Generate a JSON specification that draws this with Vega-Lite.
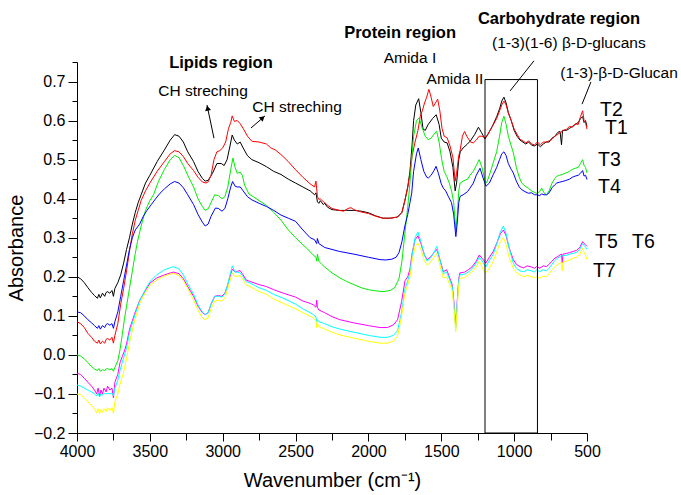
{
"$schema": "https://vega.github.io/schema/vega-lite/v6.json",
"width": 510, "height": 371,
"autosize": "none",
"padding": {"left": 77, "top": 62, "right": 94, "bottom": 62},
"background": "white",
"config": {"font": "Liberation Sans", "view": {"stroke": null},
  "axis": {"grid": false, "domainColor": "black", "tickColor": "black", "labelColor": "black", "titleColor": "black", "domainWidth": 1, "tickWidth": 1, "labelFont": "Liberation Sans", "titleFont": "Liberation Sans", "titleFontWeight": "normal", "labelFlush": false, "labelOverlap": false}},
"datasets": {
"spectra": [
{"s":"T2","w":4000,"a":0.200},{"s":"T2","w":3975,"a":0.195},{"s":"T2","w":3950,"a":0.185},{"s":"T2","w":3925,"a":0.172},{"s":"T2","w":3900,"a":0.160},{"s":"T2","w":3880,"a":0.152},{"s":"T2","w":3860,"a":0.145},{"s":"T2","w":3850,"a":0.155},{"s":"T2","w":3840,"a":0.146},{"s":"T2","w":3825,"a":0.158},{"s":"T2","w":3810,"a":0.150},{"s":"T2","w":3800,"a":0.160},{"s":"T2","w":3790,"a":0.162},{"s":"T2","w":3775,"a":0.158},{"s":"T2","w":3760,"a":0.165},{"s":"T2","w":3750,"a":0.150},{"s":"T2","w":3740,"a":0.170},{"s":"T2","w":3720,"a":0.185},{"s":"T2","w":3700,"a":0.205},{"s":"T2","w":3680,"a":0.235},{"s":"T2","w":3660,"a":0.270},{"s":"T2","w":3640,"a":0.300},{"s":"T2","w":3620,"a":0.335},{"s":"T2","w":3600,"a":0.365},{"s":"T2","w":3580,"a":0.390},{"s":"T2","w":3560,"a":0.410},{"s":"T2","w":3530,"a":0.440},{"s":"T2","w":3500,"a":0.460},{"s":"T2","w":3450,"a":0.495},{"s":"T2","w":3400,"a":0.525},{"s":"T2","w":3360,"a":0.550},{"s":"T2","w":3330,"a":0.564},{"s":"T2","w":3300,"a":0.560},{"s":"T2","w":3270,"a":0.545},{"s":"T2","w":3240,"a":0.520},{"s":"T2","w":3200,"a":0.495},{"s":"T2","w":3170,"a":0.470},{"s":"T2","w":3140,"a":0.452},{"s":"T2","w":3120,"a":0.445},{"s":"T2","w":3100,"a":0.447},{"s":"T2","w":3070,"a":0.465},{"s":"T2","w":3040,"a":0.490},{"s":"T2","w":3010,"a":0.490},{"s":"T2","w":2990,"a":0.485},{"s":"T2","w":2970,"a":0.500},{"s":"T2","w":2950,"a":0.535},{"s":"T2","w":2935,"a":0.563},{"s":"T2","w":2920,"a":0.550},{"s":"T2","w":2900,"a":0.540},{"s":"T2","w":2880,"a":0.545},{"s":"T2","w":2860,"a":0.530},{"s":"T2","w":2830,"a":0.510},{"s":"T2","w":2800,"a":0.500},{"s":"T2","w":2750,"a":0.492},{"s":"T2","w":2700,"a":0.482},{"s":"T2","w":2650,"a":0.470},{"s":"T2","w":2600,"a":0.462},{"s":"T2","w":2550,"a":0.450},{"s":"T2","w":2500,"a":0.440},{"s":"T2","w":2450,"a":0.430},{"s":"T2","w":2400,"a":0.420},{"s":"T2","w":2370,"a":0.410},{"s":"T2","w":2360,"a":0.415},{"s":"T2","w":2350,"a":0.392},{"s":"T2","w":2340,"a":0.388},{"s":"T2","w":2330,"a":0.395},{"s":"T2","w":2310,"a":0.385},{"s":"T2","w":2300,"a":0.388},{"s":"T2","w":2280,"a":0.378},{"s":"T2","w":2250,"a":0.372},{"s":"T2","w":2200,"a":0.370},{"s":"T2","w":2150,"a":0.370},{"s":"T2","w":2100,"a":0.370},{"s":"T2","w":2050,"a":0.368},{"s":"T2","w":2000,"a":0.364},{"s":"T2","w":1950,"a":0.356},{"s":"T2","w":1900,"a":0.350},{"s":"T2","w":1850,"a":0.350},{"s":"T2","w":1800,"a":0.353},{"s":"T2","w":1770,"a":0.365},{"s":"T2","w":1750,"a":0.395},{"s":"T2","w":1730,"a":0.430},{"s":"T2","w":1715,"a":0.470},{"s":"T2","w":1700,"a":0.540},{"s":"T2","w":1690,"a":0.600},{"s":"T2","w":1675,"a":0.640},{"s":"T2","w":1655,"a":0.656},{"s":"T2","w":1640,"a":0.620},{"s":"T2","w":1625,"a":0.578},{"s":"T2","w":1610,"a":0.575},{"s":"T2","w":1590,"a":0.590},{"s":"T2","w":1560,"a":0.605},{"s":"T2","w":1535,"a":0.615},{"s":"T2","w":1515,"a":0.590},{"s":"T2","w":1500,"a":0.555},{"s":"T2","w":1480,"a":0.545},{"s":"T2","w":1460,"a":0.543},{"s":"T2","w":1440,"a":0.520},{"s":"T2","w":1420,"a":0.480},{"s":"T2","w":1405,"a":0.420},{"s":"T2","w":1395,"a":0.440},{"s":"T2","w":1380,"a":0.500},{"s":"T2","w":1370,"a":0.520},{"s":"T2","w":1350,"a":0.530},{"s":"T2","w":1320,"a":0.540},{"s":"T2","w":1300,"a":0.548},{"s":"T2","w":1270,"a":0.565},{"s":"T2","w":1245,"a":0.583},{"s":"T2","w":1225,"a":0.570},{"s":"T2","w":1200,"a":0.553},{"s":"T2","w":1180,"a":0.565},{"s":"T2","w":1150,"a":0.585},{"s":"T2","w":1120,"a":0.610},{"s":"T2","w":1100,"a":0.630},{"s":"T2","w":1085,"a":0.650},{"s":"T2","w":1070,"a":0.660},{"s":"T2","w":1055,"a":0.645},{"s":"T2","w":1040,"a":0.620},{"s":"T2","w":1020,"a":0.600},{"s":"T2","w":1000,"a":0.575},{"s":"T2","w":980,"a":0.560},{"s":"T2","w":960,"a":0.550},{"s":"T2","w":940,"a":0.545},{"s":"T2","w":920,"a":0.540},{"s":"T2","w":900,"a":0.545},{"s":"T2","w":880,"a":0.537},{"s":"T2","w":860,"a":0.535},{"s":"T2","w":840,"a":0.540},{"s":"T2","w":820,"a":0.533},{"s":"T2","w":800,"a":0.540},{"s":"T2","w":780,"a":0.545},{"s":"T2","w":760,"a":0.545},{"s":"T2","w":740,"a":0.555},{"s":"T2","w":720,"a":0.560},{"s":"T2","w":700,"a":0.570},{"s":"T2","w":685,"a":0.572},{"s":"T2","w":675,"a":0.538},{"s":"T2","w":668,"a":0.575},{"s":"T2","w":640,"a":0.575},{"s":"T2","w":620,"a":0.580},{"s":"T2","w":600,"a":0.585},{"s":"T2","w":580,"a":0.590},{"s":"T2","w":560,"a":0.595},{"s":"T2","w":545,"a":0.605},{"s":"T2","w":530,"a":0.610},{"s":"T2","w":520,"a":0.595},{"s":"T2","w":510,"a":0.600},{"s":"T2","w":500,"a":0.585},
{"s":"T1","w":4000,"a":0.085},{"s":"T1","w":3975,"a":0.080},{"s":"T1","w":3950,"a":0.070},{"s":"T1","w":3925,"a":0.055},{"s":"T1","w":3900,"a":0.045},{"s":"T1","w":3880,"a":0.035},{"s":"T1","w":3860,"a":0.030},{"s":"T1","w":3850,"a":0.038},{"s":"T1","w":3840,"a":0.028},{"s":"T1","w":3825,"a":0.035},{"s":"T1","w":3810,"a":0.030},{"s":"T1","w":3800,"a":0.040},{"s":"T1","w":3790,"a":0.042},{"s":"T1","w":3775,"a":0.038},{"s":"T1","w":3760,"a":0.045},{"s":"T1","w":3750,"a":0.030},{"s":"T1","w":3740,"a":0.050},{"s":"T1","w":3720,"a":0.080},{"s":"T1","w":3700,"a":0.130},{"s":"T1","w":3680,"a":0.170},{"s":"T1","w":3660,"a":0.215},{"s":"T1","w":3640,"a":0.265},{"s":"T1","w":3620,"a":0.310},{"s":"T1","w":3600,"a":0.345},{"s":"T1","w":3580,"a":0.370},{"s":"T1","w":3560,"a":0.395},{"s":"T1","w":3530,"a":0.420},{"s":"T1","w":3500,"a":0.440},{"s":"T1","w":3450,"a":0.470},{"s":"T1","w":3400,"a":0.495},{"s":"T1","w":3360,"a":0.515},{"s":"T1","w":3330,"a":0.523},{"s":"T1","w":3300,"a":0.520},{"s":"T1","w":3270,"a":0.508},{"s":"T1","w":3240,"a":0.490},{"s":"T1","w":3200,"a":0.472},{"s":"T1","w":3170,"a":0.455},{"s":"T1","w":3140,"a":0.443},{"s":"T1","w":3115,"a":0.440},{"s":"T1","w":3100,"a":0.443},{"s":"T1","w":3080,"a":0.460},{"s":"T1","w":3060,"a":0.500},{"s":"T1","w":3040,"a":0.520},{"s":"T1","w":3020,"a":0.523},{"s":"T1","w":3000,"a":0.530},{"s":"T1","w":2980,"a":0.545},{"s":"T1","w":2960,"a":0.580},{"s":"T1","w":2945,"a":0.595},{"s":"T1","w":2935,"a":0.612},{"s":"T1","w":2920,"a":0.598},{"s":"T1","w":2900,"a":0.600},{"s":"T1","w":2880,"a":0.592},{"s":"T1","w":2860,"a":0.580},{"s":"T1","w":2830,"a":0.560},{"s":"T1","w":2800,"a":0.547},{"s":"T1","w":2750,"a":0.545},{"s":"T1","w":2700,"a":0.540},{"s":"T1","w":2670,"a":0.530},{"s":"T1","w":2640,"a":0.525},{"s":"T1","w":2600,"a":0.513},{"s":"T1","w":2550,"a":0.495},{"s":"T1","w":2500,"a":0.474},{"s":"T1","w":2450,"a":0.455},{"s":"T1","w":2400,"a":0.438},{"s":"T1","w":2370,"a":0.430},{"s":"T1","w":2360,"a":0.445},{"s":"T1","w":2350,"a":0.405},{"s":"T1","w":2340,"a":0.398},{"s":"T1","w":2330,"a":0.400},{"s":"T1","w":2310,"a":0.392},{"s":"T1","w":2300,"a":0.390},{"s":"T1","w":2280,"a":0.383},{"s":"T1","w":2250,"a":0.375},{"s":"T1","w":2200,"a":0.370},{"s":"T1","w":2170,"a":0.368},{"s":"T1","w":2140,"a":0.375},{"s":"T1","w":2120,"a":0.377},{"s":"T1","w":2100,"a":0.372},{"s":"T1","w":2050,"a":0.366},{"s":"T1","w":2000,"a":0.362},{"s":"T1","w":1950,"a":0.355},{"s":"T1","w":1900,"a":0.350},{"s":"T1","w":1850,"a":0.350},{"s":"T1","w":1800,"a":0.353},{"s":"T1","w":1770,"a":0.365},{"s":"T1","w":1750,"a":0.395},{"s":"T1","w":1730,"a":0.430},{"s":"T1","w":1715,"a":0.465},{"s":"T1","w":1700,"a":0.510},{"s":"T1","w":1680,"a":0.545},{"s":"T1","w":1660,"a":0.575},{"s":"T1","w":1645,"a":0.610},{"s":"T1","w":1630,"a":0.625},{"s":"T1","w":1615,"a":0.645},{"s":"T1","w":1600,"a":0.660},{"s":"T1","w":1585,"a":0.680},{"s":"T1","w":1570,"a":0.660},{"s":"T1","w":1555,"a":0.636},{"s":"T1","w":1540,"a":0.645},{"s":"T1","w":1525,"a":0.655},{"s":"T1","w":1510,"a":0.625},{"s":"T1","w":1495,"a":0.580},{"s":"T1","w":1480,"a":0.560},{"s":"T1","w":1460,"a":0.556},{"s":"T1","w":1440,"a":0.535},{"s":"T1","w":1420,"a":0.505},{"s":"T1","w":1405,"a":0.445},{"s":"T1","w":1395,"a":0.465},{"s":"T1","w":1380,"a":0.510},{"s":"T1","w":1370,"a":0.525},{"s":"T1","w":1355,"a":0.560},{"s":"T1","w":1340,"a":0.572},{"s":"T1","w":1325,"a":0.560},{"s":"T1","w":1300,"a":0.545},{"s":"T1","w":1280,"a":0.543},{"s":"T1","w":1260,"a":0.550},{"s":"T1","w":1240,"a":0.560},{"s":"T1","w":1220,"a":0.560},{"s":"T1","w":1200,"a":0.555},{"s":"T1","w":1180,"a":0.565},{"s":"T1","w":1150,"a":0.585},{"s":"T1","w":1120,"a":0.605},{"s":"T1","w":1100,"a":0.625},{"s":"T1","w":1085,"a":0.640},{"s":"T1","w":1070,"a":0.650},{"s":"T1","w":1055,"a":0.640},{"s":"T1","w":1040,"a":0.620},{"s":"T1","w":1020,"a":0.600},{"s":"T1","w":1000,"a":0.578},{"s":"T1","w":980,"a":0.565},{"s":"T1","w":960,"a":0.552},{"s":"T1","w":940,"a":0.548},{"s":"T1","w":920,"a":0.543},{"s":"T1","w":900,"a":0.548},{"s":"T1","w":880,"a":0.540},{"s":"T1","w":860,"a":0.538},{"s":"T1","w":840,"a":0.545},{"s":"T1","w":820,"a":0.538},{"s":"T1","w":800,"a":0.545},{"s":"T1","w":780,"a":0.545},{"s":"T1","w":760,"a":0.548},{"s":"T1","w":740,"a":0.552},{"s":"T1","w":720,"a":0.560},{"s":"T1","w":700,"a":0.565},{"s":"T1","w":680,"a":0.570},{"s":"T1","w":660,"a":0.575},{"s":"T1","w":640,"a":0.578},{"s":"T1","w":620,"a":0.585},{"s":"T1","w":600,"a":0.583},{"s":"T1","w":580,"a":0.592},{"s":"T1","w":560,"a":0.590},{"s":"T1","w":545,"a":0.610},{"s":"T1","w":530,"a":0.625},{"s":"T1","w":520,"a":0.600},{"s":"T1","w":510,"a":0.595},{"s":"T1","w":500,"a":0.578},
{"s":"T3","w":4000,"a":0.000},{"s":"T3","w":3975,"a":-0.003},{"s":"T3","w":3950,"a":-0.010},{"s":"T3","w":3925,"a":-0.020},{"s":"T3","w":3900,"a":-0.030},{"s":"T3","w":3880,"a":-0.036},{"s":"T3","w":3860,"a":-0.040},{"s":"T3","w":3850,"a":-0.035},{"s":"T3","w":3840,"a":-0.042},{"s":"T3","w":3825,"a":-0.038},{"s":"T3","w":3810,"a":-0.040},{"s":"T3","w":3800,"a":-0.036},{"s":"T3","w":3790,"a":-0.035},{"s":"T3","w":3775,"a":-0.038},{"s":"T3","w":3760,"a":-0.035},{"s":"T3","w":3750,"a":-0.042},{"s":"T3","w":3740,"a":-0.032},{"s":"T3","w":3720,"a":-0.015},{"s":"T3","w":3705,"a":0.013},{"s":"T3","w":3690,"a":0.050},{"s":"T3","w":3675,"a":0.090},{"s":"T3","w":3660,"a":0.125},{"s":"T3","w":3640,"a":0.170},{"s":"T3","w":3620,"a":0.215},{"s":"T3","w":3600,"a":0.260},{"s":"T3","w":3585,"a":0.290},{"s":"T3","w":3560,"a":0.330},{"s":"T3","w":3530,"a":0.370},{"s":"T3","w":3500,"a":0.395},{"s":"T3","w":3475,"a":0.410},{"s":"T3","w":3440,"a":0.445},{"s":"T3","w":3400,"a":0.475},{"s":"T3","w":3360,"a":0.500},{"s":"T3","w":3330,"a":0.511},{"s":"T3","w":3300,"a":0.505},{"s":"T3","w":3270,"a":0.485},{"s":"T3","w":3240,"a":0.460},{"s":"T3","w":3200,"a":0.430},{"s":"T3","w":3170,"a":0.400},{"s":"T3","w":3140,"a":0.380},{"s":"T3","w":3120,"a":0.370},{"s":"T3","w":3100,"a":0.374},{"s":"T3","w":3080,"a":0.390},{"s":"T3","w":3055,"a":0.410},{"s":"T3","w":3030,"a":0.408},{"s":"T3","w":3005,"a":0.400},{"s":"T3","w":2985,"a":0.405},{"s":"T3","w":2965,"a":0.430},{"s":"T3","w":2945,"a":0.475},{"s":"T3","w":2930,"a":0.504},{"s":"T3","w":2915,"a":0.480},{"s":"T3","w":2900,"a":0.465},{"s":"T3","w":2880,"a":0.468},{"s":"T3","w":2865,"a":0.460},{"s":"T3","w":2850,"a":0.435},{"s":"T3","w":2820,"a":0.412},{"s":"T3","w":2790,"a":0.405},{"s":"T3","w":2750,"a":0.395},{"s":"T3","w":2700,"a":0.383},{"s":"T3","w":2650,"a":0.365},{"s":"T3","w":2600,"a":0.345},{"s":"T3","w":2550,"a":0.320},{"s":"T3","w":2500,"a":0.300},{"s":"T3","w":2450,"a":0.282},{"s":"T3","w":2420,"a":0.272},{"s":"T3","w":2380,"a":0.256},{"s":"T3","w":2360,"a":0.250},{"s":"T3","w":2355,"a":0.240},{"s":"T3","w":2350,"a":0.258},{"s":"T3","w":2340,"a":0.240},{"s":"T3","w":2320,"a":0.232},{"s":"T3","w":2300,"a":0.225},{"s":"T3","w":2250,"a":0.210},{"s":"T3","w":2200,"a":0.198},{"s":"T3","w":2150,"a":0.188},{"s":"T3","w":2100,"a":0.180},{"s":"T3","w":2050,"a":0.172},{"s":"T3","w":2000,"a":0.167},{"s":"T3","w":1950,"a":0.164},{"s":"T3","w":1900,"a":0.162},{"s":"T3","w":1850,"a":0.165},{"s":"T3","w":1820,"a":0.172},{"s":"T3","w":1790,"a":0.195},{"s":"T3","w":1770,"a":0.240},{"s":"T3","w":1750,"a":0.310},{"s":"T3","w":1730,"a":0.380},{"s":"T3","w":1715,"a":0.440},{"s":"T3","w":1703,"a":0.500},{"s":"T3","w":1690,"a":0.560},{"s":"T3","w":1670,"a":0.600},{"s":"T3","w":1652,"a":0.607},{"s":"T3","w":1635,"a":0.585},{"s":"T3","w":1610,"a":0.560},{"s":"T3","w":1590,"a":0.551},{"s":"T3","w":1570,"a":0.555},{"s":"T3","w":1550,"a":0.565},{"s":"T3","w":1532,"a":0.573},{"s":"T3","w":1515,"a":0.545},{"s":"T3","w":1497,"a":0.500},{"s":"T3","w":1480,"a":0.470},{"s":"T3","w":1463,"a":0.457},{"s":"T3","w":1445,"a":0.440},{"s":"T3","w":1429,"a":0.419},{"s":"T3","w":1415,"a":0.390},{"s":"T3","w":1400,"a":0.320},{"s":"T3","w":1390,"a":0.360},{"s":"T3","w":1380,"a":0.420},{"s":"T3","w":1371,"a":0.440},{"s":"T3","w":1350,"a":0.445},{"s":"T3","w":1320,"a":0.450},{"s":"T3","w":1303,"a":0.460},{"s":"T3","w":1280,"a":0.470},{"s":"T3","w":1260,"a":0.485},{"s":"T3","w":1240,"a":0.500},{"s":"T3","w":1220,"a":0.480},{"s":"T3","w":1200,"a":0.445},{"s":"T3","w":1190,"a":0.440},{"s":"T3","w":1170,"a":0.460},{"s":"T3","w":1145,"a":0.490},{"s":"T3","w":1120,"a":0.520},{"s":"T3","w":1100,"a":0.560},{"s":"T3","w":1085,"a":0.595},{"s":"T3","w":1070,"a":0.611},{"s":"T3","w":1055,"a":0.590},{"s":"T3","w":1040,"a":0.560},{"s":"T3","w":1020,"a":0.535},{"s":"T3","w":1005,"a":0.517},{"s":"T3","w":985,"a":0.480},{"s":"T3","w":965,"a":0.455},{"s":"T3","w":948,"a":0.440},{"s":"T3","w":925,"a":0.432},{"s":"T3","w":903,"a":0.427},{"s":"T3","w":880,"a":0.420},{"s":"T3","w":860,"a":0.416},{"s":"T3","w":845,"a":0.414},{"s":"T3","w":825,"a":0.418},{"s":"T3","w":811,"a":0.427},{"s":"T3","w":795,"a":0.415},{"s":"T3","w":777,"a":0.410},{"s":"T3","w":760,"a":0.420},{"s":"T3","w":740,"a":0.440},{"s":"T3","w":720,"a":0.452},{"s":"T3","w":708,"a":0.457},{"s":"T3","w":690,"a":0.460},{"s":"T3","w":670,"a":0.462},{"s":"T3","w":650,"a":0.465},{"s":"T3","w":620,"a":0.470},{"s":"T3","w":600,"a":0.475},{"s":"T3","w":580,"a":0.478},{"s":"T3","w":560,"a":0.480},{"s":"T3","w":545,"a":0.490},{"s":"T3","w":530,"a":0.500},{"s":"T3","w":520,"a":0.485},{"s":"T3","w":510,"a":0.480},{"s":"T3","w":500,"a":0.466},
{"s":"T4","w":4000,"a":0.110},{"s":"T4","w":3975,"a":0.108},{"s":"T4","w":3950,"a":0.100},{"s":"T4","w":3925,"a":0.090},{"s":"T4","w":3900,"a":0.082},{"s":"T4","w":3880,"a":0.075},{"s":"T4","w":3860,"a":0.068},{"s":"T4","w":3850,"a":0.075},{"s":"T4","w":3840,"a":0.066},{"s":"T4","w":3825,"a":0.075},{"s":"T4","w":3810,"a":0.070},{"s":"T4","w":3800,"a":0.078},{"s":"T4","w":3790,"a":0.080},{"s":"T4","w":3775,"a":0.076},{"s":"T4","w":3760,"a":0.080},{"s":"T4","w":3750,"a":0.068},{"s":"T4","w":3740,"a":0.085},{"s":"T4","w":3720,"a":0.110},{"s":"T4","w":3700,"a":0.150},{"s":"T4","w":3680,"a":0.190},{"s":"T4","w":3660,"a":0.230},{"s":"T4","w":3640,"a":0.270},{"s":"T4","w":3620,"a":0.300},{"s":"T4","w":3600,"a":0.320},{"s":"T4","w":3570,"a":0.335},{"s":"T4","w":3545,"a":0.355},{"s":"T4","w":3520,"a":0.370},{"s":"T4","w":3490,"a":0.385},{"s":"T4","w":3460,"a":0.400},{"s":"T4","w":3430,"a":0.414},{"s":"T4","w":3400,"a":0.425},{"s":"T4","w":3360,"a":0.438},{"s":"T4","w":3330,"a":0.444},{"s":"T4","w":3300,"a":0.440},{"s":"T4","w":3270,"a":0.428},{"s":"T4","w":3240,"a":0.410},{"s":"T4","w":3200,"a":0.385},{"s":"T4","w":3170,"a":0.360},{"s":"T4","w":3140,"a":0.340},{"s":"T4","w":3120,"a":0.330},{"s":"T4","w":3100,"a":0.335},{"s":"T4","w":3080,"a":0.355},{"s":"T4","w":3050,"a":0.376},{"s":"T4","w":3030,"a":0.375},{"s":"T4","w":3005,"a":0.368},{"s":"T4","w":2985,"a":0.375},{"s":"T4","w":2965,"a":0.400},{"s":"T4","w":2945,"a":0.430},{"s":"T4","w":2932,"a":0.444},{"s":"T4","w":2915,"a":0.432},{"s":"T4","w":2900,"a":0.430},{"s":"T4","w":2880,"a":0.430},{"s":"T4","w":2860,"a":0.420},{"s":"T4","w":2830,"a":0.405},{"s":"T4","w":2800,"a":0.397},{"s":"T4","w":2750,"a":0.388},{"s":"T4","w":2700,"a":0.380},{"s":"T4","w":2650,"a":0.370},{"s":"T4","w":2600,"a":0.358},{"s":"T4","w":2550,"a":0.350},{"s":"T4","w":2500,"a":0.342},{"s":"T4","w":2450,"a":0.320},{"s":"T4","w":2400,"a":0.300},{"s":"T4","w":2370,"a":0.295},{"s":"T4","w":2355,"a":0.285},{"s":"T4","w":2350,"a":0.298},{"s":"T4","w":2340,"a":0.285},{"s":"T4","w":2300,"a":0.275},{"s":"T4","w":2250,"a":0.270},{"s":"T4","w":2200,"a":0.265},{"s":"T4","w":2100,"a":0.258},{"s":"T4","w":2000,"a":0.250},{"s":"T4","w":1920,"a":0.244},{"s":"T4","w":1880,"a":0.243},{"s":"T4","w":1840,"a":0.245},{"s":"T4","w":1810,"a":0.250},{"s":"T4","w":1790,"a":0.262},{"s":"T4","w":1770,"a":0.290},{"s":"T4","w":1750,"a":0.330},{"s":"T4","w":1730,"a":0.360},{"s":"T4","w":1715,"a":0.390},{"s":"T4","w":1703,"a":0.414},{"s":"T4","w":1690,"a":0.470},{"s":"T4","w":1670,"a":0.515},{"s":"T4","w":1658,"a":0.530},{"s":"T4","w":1640,"a":0.500},{"s":"T4","w":1620,"a":0.470},{"s":"T4","w":1600,"a":0.455},{"s":"T4","w":1589,"a":0.453},{"s":"T4","w":1570,"a":0.460},{"s":"T4","w":1550,"a":0.472},{"s":"T4","w":1536,"a":0.483},{"s":"T4","w":1520,"a":0.465},{"s":"T4","w":1500,"a":0.438},{"s":"T4","w":1486,"a":0.427},{"s":"T4","w":1470,"a":0.420},{"s":"T4","w":1452,"a":0.406},{"s":"T4","w":1430,"a":0.390},{"s":"T4","w":1415,"a":0.360},{"s":"T4","w":1400,"a":0.303},{"s":"T4","w":1390,"a":0.340},{"s":"T4","w":1380,"a":0.390},{"s":"T4","w":1371,"a":0.406},{"s":"T4","w":1350,"a":0.410},{"s":"T4","w":1320,"a":0.418},{"s":"T4","w":1303,"a":0.427},{"s":"T4","w":1280,"a":0.440},{"s":"T4","w":1260,"a":0.460},{"s":"T4","w":1234,"a":0.478},{"s":"T4","w":1215,"a":0.455},{"s":"T4","w":1193,"a":0.432},{"s":"T4","w":1170,"a":0.440},{"s":"T4","w":1143,"a":0.462},{"s":"T4","w":1120,"a":0.480},{"s":"T4","w":1100,"a":0.500},{"s":"T4","w":1085,"a":0.515},{"s":"T4","w":1070,"a":0.520},{"s":"T4","w":1055,"a":0.510},{"s":"T4","w":1040,"a":0.490},{"s":"T4","w":1020,"a":0.475},{"s":"T4","w":1006,"a":0.466},{"s":"T4","w":985,"a":0.445},{"s":"T4","w":965,"a":0.430},{"s":"T4","w":948,"a":0.423},{"s":"T4","w":925,"a":0.418},{"s":"T4","w":903,"a":0.414},{"s":"T4","w":880,"a":0.415},{"s":"T4","w":860,"a":0.410},{"s":"T4","w":845,"a":0.410},{"s":"T4","w":825,"a":0.408},{"s":"T4","w":811,"a":0.412},{"s":"T4","w":795,"a":0.410},{"s":"T4","w":777,"a":0.410},{"s":"T4","w":760,"a":0.415},{"s":"T4","w":740,"a":0.428},{"s":"T4","w":720,"a":0.436},{"s":"T4","w":708,"a":0.440},{"s":"T4","w":690,"a":0.442},{"s":"T4","w":670,"a":0.444},{"s":"T4","w":650,"a":0.446},{"s":"T4","w":620,"a":0.450},{"s":"T4","w":600,"a":0.455},{"s":"T4","w":580,"a":0.458},{"s":"T4","w":560,"a":0.460},{"s":"T4","w":545,"a":0.465},{"s":"T4","w":530,"a":0.472},{"s":"T4","w":520,"a":0.458},{"s":"T4","w":510,"a":0.460},{"s":"T4","w":500,"a":0.449},
{"s":"T5","w":4000,"a":-0.047},{"s":"T5","w":3975,"a":-0.050},{"s":"T5","w":3950,"a":-0.060},{"s":"T5","w":3925,"a":-0.070},{"s":"T5","w":3900,"a":-0.080},{"s":"T5","w":3880,"a":-0.090},{"s":"T5","w":3865,"a":-0.100},{"s":"T5","w":3855,"a":-0.085},{"s":"T5","w":3845,"a":-0.105},{"s":"T5","w":3835,"a":-0.090},{"s":"T5","w":3825,"a":-0.100},{"s":"T5","w":3815,"a":-0.085},{"s":"T5","w":3800,"a":-0.095},{"s":"T5","w":3790,"a":-0.080},{"s":"T5","w":3775,"a":-0.090},{"s":"T5","w":3760,"a":-0.085},{"s":"T5","w":3750,"a":-0.110},{"s":"T5","w":3740,"a":-0.070},{"s":"T5","w":3720,"a":-0.050},{"s":"T5","w":3705,"a":-0.020},{"s":"T5","w":3690,"a":-0.005},{"s":"T5","w":3670,"a":0.015},{"s":"T5","w":3659,"a":0.030},{"s":"T5","w":3640,"a":0.065},{"s":"T5","w":3625,"a":0.082},{"s":"T5","w":3600,"a":0.110},{"s":"T5","w":3568,"a":0.141},{"s":"T5","w":3530,"a":0.165},{"s":"T5","w":3499,"a":0.184},{"s":"T5","w":3453,"a":0.197},{"s":"T5","w":3400,"a":0.205},{"s":"T5","w":3339,"a":0.212},{"s":"T5","w":3300,"a":0.208},{"s":"T5","w":3270,"a":0.195},{"s":"T5","w":3240,"a":0.175},{"s":"T5","w":3200,"a":0.150},{"s":"T5","w":3170,"a":0.125},{"s":"T5","w":3140,"a":0.108},{"s":"T5","w":3121,"a":0.103},{"s":"T5","w":3100,"a":0.108},{"s":"T5","w":3080,"a":0.130},{"s":"T5","w":3055,"a":0.150},{"s":"T5","w":3030,"a":0.152},{"s":"T5","w":3007,"a":0.150},{"s":"T5","w":2985,"a":0.158},{"s":"T5","w":2965,"a":0.180},{"s":"T5","w":2950,"a":0.200},{"s":"T5","w":2934,"a":0.220},{"s":"T5","w":2915,"a":0.212},{"s":"T5","w":2900,"a":0.214},{"s":"T5","w":2881,"a":0.216},{"s":"T5","w":2860,"a":0.205},{"s":"T5","w":2840,"a":0.192},{"s":"T5","w":2813,"a":0.188},{"s":"T5","w":2750,"a":0.180},{"s":"T5","w":2700,"a":0.175},{"s":"T5","w":2650,"a":0.167},{"s":"T5","w":2584,"a":0.158},{"s":"T5","w":2500,"a":0.148},{"s":"T5","w":2450,"a":0.138},{"s":"T5","w":2400,"a":0.132},{"s":"T5","w":2378,"a":0.128},{"s":"T5","w":2360,"a":0.122},{"s":"T5","w":2355,"a":0.140},{"s":"T5","w":2350,"a":0.122},{"s":"T5","w":2340,"a":0.115},{"s":"T5","w":2300,"a":0.108},{"s":"T5","w":2250,"a":0.098},{"s":"T5","w":2195,"a":0.090},{"s":"T5","w":2100,"a":0.082},{"s":"T5","w":2000,"a":0.075},{"s":"T5","w":1920,"a":0.070},{"s":"T5","w":1870,"a":0.070},{"s":"T5","w":1829,"a":0.077},{"s":"T5","w":1800,"a":0.090},{"s":"T5","w":1772,"a":0.137},{"s":"T5","w":1749,"a":0.190},{"s":"T5","w":1730,"a":0.200},{"s":"T5","w":1715,"a":0.220},{"s":"T5","w":1700,"a":0.260},{"s":"T5","w":1680,"a":0.295},{"s":"T5","w":1660,"a":0.305},{"s":"T5","w":1640,"a":0.285},{"s":"T5","w":1615,"a":0.255},{"s":"T5","w":1596,"a":0.244},{"s":"T5","w":1575,"a":0.250},{"s":"T5","w":1550,"a":0.262},{"s":"T5","w":1531,"a":0.270},{"s":"T5","w":1510,"a":0.245},{"s":"T5","w":1486,"a":0.213},{"s":"T5","w":1463,"a":0.218},{"s":"T5","w":1445,"a":0.200},{"s":"T5","w":1425,"a":0.180},{"s":"T5","w":1412,"a":0.130},{"s":"T5","w":1401,"a":0.073},{"s":"T5","w":1390,"a":0.140},{"s":"T5","w":1380,"a":0.195},{"s":"T5","w":1372,"a":0.210},{"s":"T5","w":1340,"a":0.212},{"s":"T5","w":1315,"a":0.218},{"s":"T5","w":1290,"a":0.225},{"s":"T5","w":1260,"a":0.240},{"s":"T5","w":1239,"a":0.256},{"s":"T5","w":1215,"a":0.245},{"s":"T5","w":1195,"a":0.235},{"s":"T5","w":1170,"a":0.250},{"s":"T5","w":1143,"a":0.265},{"s":"T5","w":1115,"a":0.290},{"s":"T5","w":1095,"a":0.310},{"s":"T5","w":1074,"a":0.320},{"s":"T5","w":1055,"a":0.305},{"s":"T5","w":1035,"a":0.275},{"s":"T5","w":1006,"a":0.244},{"s":"T5","w":985,"a":0.232},{"s":"T5","w":960,"a":0.226},{"s":"T5","w":935,"a":0.223},{"s":"T5","w":910,"a":0.228},{"s":"T5","w":880,"a":0.225},{"s":"T5","w":860,"a":0.222},{"s":"T5","w":845,"a":0.226},{"s":"T5","w":825,"a":0.222},{"s":"T5","w":800,"a":0.228},{"s":"T5","w":777,"a":0.226},{"s":"T5","w":760,"a":0.232},{"s":"T5","w":740,"a":0.240},{"s":"T5","w":720,"a":0.248},{"s":"T5","w":700,"a":0.252},{"s":"T5","w":685,"a":0.256},{"s":"T5","w":675,"a":0.258},{"s":"T5","w":670,"a":0.235},{"s":"T5","w":665,"a":0.258},{"s":"T5","w":640,"a":0.260},{"s":"T5","w":620,"a":0.262},{"s":"T5","w":594,"a":0.265},{"s":"T5","w":570,"a":0.268},{"s":"T5","w":550,"a":0.275},{"s":"T5","w":530,"a":0.290},{"s":"T5","w":520,"a":0.285},{"s":"T5","w":510,"a":0.282},{"s":"T5","w":500,"a":0.278},
{"s":"T6","w":4000,"a":-0.077},{"s":"T6","w":3975,"a":-0.080},{"s":"T6","w":3950,"a":-0.085},{"s":"T6","w":3925,"a":-0.090},{"s":"T6","w":3900,"a":-0.095},{"s":"T6","w":3880,"a":-0.100},{"s":"T6","w":3865,"a":-0.105},{"s":"T6","w":3855,"a":-0.098},{"s":"T6","w":3845,"a":-0.108},{"s":"T6","w":3835,"a":-0.100},{"s":"T6","w":3825,"a":-0.103},{"s":"T6","w":3815,"a":-0.098},{"s":"T6","w":3800,"a":-0.100},{"s":"T6","w":3790,"a":-0.098},{"s":"T6","w":3775,"a":-0.100},{"s":"T6","w":3760,"a":-0.098},{"s":"T6","w":3750,"a":-0.105},{"s":"T6","w":3740,"a":-0.085},{"s":"T6","w":3720,"a":-0.065},{"s":"T6","w":3705,"a":-0.040},{"s":"T6","w":3690,"a":-0.020},{"s":"T6","w":3670,"a":0.005},{"s":"T6","w":3659,"a":0.020},{"s":"T6","w":3640,"a":0.055},{"s":"T6","w":3625,"a":0.075},{"s":"T6","w":3600,"a":0.105},{"s":"T6","w":3568,"a":0.140},{"s":"T6","w":3530,"a":0.168},{"s":"T6","w":3499,"a":0.188},{"s":"T6","w":3453,"a":0.205},{"s":"T6","w":3400,"a":0.218},{"s":"T6","w":3339,"a":0.226},{"s":"T6","w":3300,"a":0.220},{"s":"T6","w":3270,"a":0.205},{"s":"T6","w":3240,"a":0.182},{"s":"T6","w":3200,"a":0.155},{"s":"T6","w":3170,"a":0.128},{"s":"T6","w":3140,"a":0.110},{"s":"T6","w":3121,"a":0.103},{"s":"T6","w":3100,"a":0.108},{"s":"T6","w":3080,"a":0.130},{"s":"T6","w":3055,"a":0.150},{"s":"T6","w":3030,"a":0.150},{"s":"T6","w":3007,"a":0.148},{"s":"T6","w":2985,"a":0.156},{"s":"T6","w":2965,"a":0.180},{"s":"T6","w":2950,"a":0.205},{"s":"T6","w":2934,"a":0.228},{"s":"T6","w":2915,"a":0.212},{"s":"T6","w":2900,"a":0.212},{"s":"T6","w":2881,"a":0.210},{"s":"T6","w":2860,"a":0.200},{"s":"T6","w":2840,"a":0.188},{"s":"T6","w":2813,"a":0.184},{"s":"T6","w":2750,"a":0.172},{"s":"T6","w":2700,"a":0.165},{"s":"T6","w":2650,"a":0.155},{"s":"T6","w":2584,"a":0.145},{"s":"T6","w":2500,"a":0.130},{"s":"T6","w":2450,"a":0.118},{"s":"T6","w":2400,"a":0.108},{"s":"T6","w":2378,"a":0.103},{"s":"T6","w":2360,"a":0.097},{"s":"T6","w":2355,"a":0.085},{"s":"T6","w":2350,"a":0.090},{"s":"T6","w":2340,"a":0.085},{"s":"T6","w":2300,"a":0.080},{"s":"T6","w":2250,"a":0.072},{"s":"T6","w":2195,"a":0.066},{"s":"T6","w":2100,"a":0.058},{"s":"T6","w":2000,"a":0.050},{"s":"T6","w":1920,"a":0.045},{"s":"T6","w":1870,"a":0.045},{"s":"T6","w":1829,"a":0.050},{"s":"T6","w":1800,"a":0.062},{"s":"T6","w":1772,"a":0.110},{"s":"T6","w":1749,"a":0.170},{"s":"T6","w":1730,"a":0.190},{"s":"T6","w":1715,"a":0.210},{"s":"T6","w":1700,"a":0.255},{"s":"T6","w":1680,"a":0.300},{"s":"T6","w":1660,"a":0.315},{"s":"T6","w":1640,"a":0.290},{"s":"T6","w":1615,"a":0.255},{"s":"T6","w":1596,"a":0.240},{"s":"T6","w":1575,"a":0.248},{"s":"T6","w":1550,"a":0.262},{"s":"T6","w":1531,"a":0.278},{"s":"T6","w":1510,"a":0.245},{"s":"T6","w":1486,"a":0.208},{"s":"T6","w":1463,"a":0.212},{"s":"T6","w":1445,"a":0.195},{"s":"T6","w":1425,"a":0.175},{"s":"T6","w":1412,"a":0.125},{"s":"T6","w":1401,"a":0.068},{"s":"T6","w":1390,"a":0.135},{"s":"T6","w":1380,"a":0.190},{"s":"T6","w":1372,"a":0.205},{"s":"T6","w":1340,"a":0.207},{"s":"T6","w":1315,"a":0.212},{"s":"T6","w":1290,"a":0.220},{"s":"T6","w":1260,"a":0.235},{"s":"T6","w":1239,"a":0.250},{"s":"T6","w":1215,"a":0.238},{"s":"T6","w":1195,"a":0.225},{"s":"T6","w":1170,"a":0.242},{"s":"T6","w":1143,"a":0.258},{"s":"T6","w":1115,"a":0.290},{"s":"T6","w":1095,"a":0.315},{"s":"T6","w":1074,"a":0.330},{"s":"T6","w":1055,"a":0.310},{"s":"T6","w":1035,"a":0.275},{"s":"T6","w":1006,"a":0.235},{"s":"T6","w":985,"a":0.222},{"s":"T6","w":960,"a":0.215},{"s":"T6","w":935,"a":0.213},{"s":"T6","w":910,"a":0.218},{"s":"T6","w":880,"a":0.215},{"s":"T6","w":860,"a":0.212},{"s":"T6","w":845,"a":0.218},{"s":"T6","w":825,"a":0.213},{"s":"T6","w":800,"a":0.218},{"s":"T6","w":777,"a":0.215},{"s":"T6","w":760,"a":0.222},{"s":"T6","w":740,"a":0.232},{"s":"T6","w":720,"a":0.242},{"s":"T6","w":700,"a":0.248},{"s":"T6","w":685,"a":0.252},{"s":"T6","w":670,"a":0.254},{"s":"T6","w":640,"a":0.255},{"s":"T6","w":620,"a":0.258},{"s":"T6","w":594,"a":0.260},{"s":"T6","w":570,"a":0.263},{"s":"T6","w":550,"a":0.270},{"s":"T6","w":530,"a":0.285},{"s":"T6","w":520,"a":0.280},{"s":"T6","w":510,"a":0.276},{"s":"T6","w":500,"a":0.270},
{"s":"T7","w":4000,"a":-0.100},{"s":"T7","w":3975,"a":-0.102},{"s":"T7","w":3950,"a":-0.110},{"s":"T7","w":3925,"a":-0.120},{"s":"T7","w":3900,"a":-0.130},{"s":"T7","w":3880,"a":-0.138},{"s":"T7","w":3865,"a":-0.148},{"s":"T7","w":3855,"a":-0.138},{"s":"T7","w":3845,"a":-0.150},{"s":"T7","w":3835,"a":-0.140},{"s":"T7","w":3825,"a":-0.147},{"s":"T7","w":3815,"a":-0.138},{"s":"T7","w":3800,"a":-0.145},{"s":"T7","w":3790,"a":-0.135},{"s":"T7","w":3775,"a":-0.142},{"s":"T7","w":3760,"a":-0.135},{"s":"T7","w":3750,"a":-0.150},{"s":"T7","w":3740,"a":-0.120},{"s":"T7","w":3720,"a":-0.100},{"s":"T7","w":3705,"a":-0.075},{"s":"T7","w":3682,"a":-0.047},{"s":"T7","w":3660,"a":-0.010},{"s":"T7","w":3636,"a":0.038},{"s":"T7","w":3610,"a":0.080},{"s":"T7","w":3568,"a":0.133},{"s":"T7","w":3530,"a":0.160},{"s":"T7","w":3499,"a":0.178},{"s":"T7","w":3453,"a":0.192},{"s":"T7","w":3400,"a":0.202},{"s":"T7","w":3339,"a":0.209},{"s":"T7","w":3300,"a":0.203},{"s":"T7","w":3270,"a":0.190},{"s":"T7","w":3240,"a":0.170},{"s":"T7","w":3200,"a":0.140},{"s":"T7","w":3170,"a":0.115},{"s":"T7","w":3140,"a":0.095},{"s":"T7","w":3121,"a":0.090},{"s":"T7","w":3100,"a":0.095},{"s":"T7","w":3080,"a":0.118},{"s":"T7","w":3055,"a":0.138},{"s":"T7","w":3030,"a":0.140},{"s":"T7","w":3007,"a":0.138},{"s":"T7","w":2985,"a":0.145},{"s":"T7","w":2965,"a":0.170},{"s":"T7","w":2950,"a":0.190},{"s":"T7","w":2934,"a":0.210},{"s":"T7","w":2915,"a":0.200},{"s":"T7","w":2900,"a":0.202},{"s":"T7","w":2881,"a":0.203},{"s":"T7","w":2860,"a":0.192},{"s":"T7","w":2840,"a":0.180},{"s":"T7","w":2813,"a":0.175},{"s":"T7","w":2750,"a":0.162},{"s":"T7","w":2700,"a":0.155},{"s":"T7","w":2650,"a":0.143},{"s":"T7","w":2584,"a":0.132},{"s":"T7","w":2500,"a":0.118},{"s":"T7","w":2450,"a":0.108},{"s":"T7","w":2400,"a":0.099},{"s":"T7","w":2378,"a":0.094},{"s":"T7","w":2360,"a":0.088},{"s":"T7","w":2355,"a":0.070},{"s":"T7","w":2350,"a":0.080},{"s":"T7","w":2340,"a":0.072},{"s":"T7","w":2300,"a":0.066},{"s":"T7","w":2250,"a":0.058},{"s":"T7","w":2195,"a":0.051},{"s":"T7","w":2100,"a":0.043},{"s":"T7","w":2000,"a":0.035},{"s":"T7","w":1920,"a":0.030},{"s":"T7","w":1870,"a":0.030},{"s":"T7","w":1829,"a":0.035},{"s":"T7","w":1800,"a":0.048},{"s":"T7","w":1772,"a":0.100},{"s":"T7","w":1749,"a":0.160},{"s":"T7","w":1730,"a":0.180},{"s":"T7","w":1715,"a":0.200},{"s":"T7","w":1700,"a":0.240},{"s":"T7","w":1680,"a":0.278},{"s":"T7","w":1660,"a":0.287},{"s":"T7","w":1640,"a":0.270},{"s":"T7","w":1615,"a":0.240},{"s":"T7","w":1596,"a":0.230},{"s":"T7","w":1575,"a":0.237},{"s":"T7","w":1550,"a":0.250},{"s":"T7","w":1531,"a":0.260},{"s":"T7","w":1510,"a":0.230},{"s":"T7","w":1486,"a":0.197},{"s":"T7","w":1463,"a":0.200},{"s":"T7","w":1445,"a":0.182},{"s":"T7","w":1425,"a":0.165},{"s":"T7","w":1412,"a":0.115},{"s":"T7","w":1401,"a":0.060},{"s":"T7","w":1390,"a":0.125},{"s":"T7","w":1380,"a":0.180},{"s":"T7","w":1372,"a":0.196},{"s":"T7","w":1340,"a":0.198},{"s":"T7","w":1315,"a":0.205},{"s":"T7","w":1290,"a":0.212},{"s":"T7","w":1260,"a":0.225},{"s":"T7","w":1239,"a":0.240},{"s":"T7","w":1215,"a":0.220},{"s":"T7","w":1195,"a":0.210},{"s":"T7","w":1170,"a":0.222},{"s":"T7","w":1143,"a":0.240},{"s":"T7","w":1115,"a":0.268},{"s":"T7","w":1095,"a":0.290},{"s":"T7","w":1074,"a":0.300},{"s":"T7","w":1055,"a":0.282},{"s":"T7","w":1035,"a":0.250},{"s":"T7","w":1006,"a":0.222},{"s":"T7","w":985,"a":0.210},{"s":"T7","w":960,"a":0.205},{"s":"T7","w":935,"a":0.200},{"s":"T7","w":910,"a":0.204},{"s":"T7","w":880,"a":0.200},{"s":"T7","w":860,"a":0.198},{"s":"T7","w":845,"a":0.200},{"s":"T7","w":825,"a":0.196},{"s":"T7","w":800,"a":0.202},{"s":"T7","w":777,"a":0.200},{"s":"T7","w":760,"a":0.208},{"s":"T7","w":740,"a":0.218},{"s":"T7","w":720,"a":0.226},{"s":"T7","w":700,"a":0.232},{"s":"T7","w":685,"a":0.235},{"s":"T7","w":675,"a":0.237},{"s":"T7","w":670,"a":0.215},{"s":"T7","w":665,"a":0.238},{"s":"T7","w":640,"a":0.240},{"s":"T7","w":620,"a":0.243},{"s":"T7","w":594,"a":0.248},{"s":"T7","w":570,"a":0.250},{"s":"T7","w":550,"a":0.258},{"s":"T7","w":530,"a":0.273},{"s":"T7","w":520,"a":0.262},{"s":"T7","w":510,"a":0.255},{"s":"T7","w":500,"a":0.244}
],
"box": [{"w1": 1200, "w2": 840, "a1": -0.2, "a2": 0.705}],
"pointers": [
{"w1": 3060, "a1": 0.555, "w2": 3108, "a2": 0.640},
{"w1": 2806, "a1": 0.581, "w2": 2710, "a2": 0.612},
{"w1": 1028, "a1": 0.676, "w2": 864, "a2": 0.753},
{"w1": 534, "a1": 0.642, "w2": 473, "a2": 0.699}
],
"regions": [
{"label": "Lipids region", "w": 3012, "a": 0.747},
{"label": "Protein region", "w": 1783, "a": 0.824},
{"label": "Carbohydrate region", "w": 692, "a": 0.860}
],
"notes": [
{"label": "CH streching", "w": 3135, "a": 0.676},
{"label": "CH streching", "w": 2490, "a": 0.635},
{"label": "Amida I", "w": 1715, "a": 0.760},
{"label": "Amida II", "w": 1406, "a": 0.706},
{"label": "(1-3)(1-6) β-D-glucans", "w": 624, "a": 0.799},
{"label": "(1-3)-β-D-Glucan", "w": 280, "a": 0.722}
],
"series": [
{"label": "T2", "w": 411, "a": 0.627},
{"label": "T1", "w": 376, "a": 0.580},
{"label": "T3", "w": 424, "a": 0.499},
{"label": "T4", "w": 424, "a": 0.430},
{"label": "T5", "w": 445, "a": 0.288},
{"label": "T6", "w": 191, "a": 0.288},
{"label": "T7", "w": 459, "a": 0.215}
]
},
"layer": [
{
 "data": {"name": "spectra"},
 "mark": {"type": "line", "strokeWidth": 1},
 "encoding": {
  "x": {"field": "w", "type": "quantitative", "scale": {"domain": [500, 4000], "reverse": true, "nice": false, "zero": false},
        "axis": {"orient": "bottom", "values": [4000, 3500, 3000, 2500, 2000, 1500, 1000, 500], "format": "d", "tickSize": 8, "labelPadding": 2, "labelFontSize": 16, "title": "Wavenumber (cm⁻¹)", "titleFontSize": 20, "titlePadding": 11}},
  "y": {"field": "a", "type": "quantitative", "scale": {"domain": [-0.2, 0.75], "nice": false, "zero": false},
        "axis": {"orient": "left", "values": [-0.2, -0.1, 0, 0.1, 0.2, 0.3, 0.4, 0.5, 0.6, 0.7], "format": ".1f", "tickSize": 9, "labelPadding": 3, "labelFontSize": 16, "title": "Absorbance", "titleFontSize": 20, "titlePadding": 7}},
  "color": {"field": "s", "type": "nominal", "scale": {"domain": ["T1", "T2", "T3", "T4", "T5", "T6", "T7"], "range": ["#ff0000", "#000000", "#00ee00", "#0000ff", "#ff00ff", "#00ffff", "#ffff00"]}, "legend": null}
 }
},
{
 "data": {"name": "box"},
 "mark": {"type": "rect", "fill": null, "fillOpacity": 0, "stroke": "black", "strokeWidth": 1},
 "encoding": {
  "x": {"field": "w1", "type": "quantitative", "scale": {"domain": [500, 4000], "reverse": true, "nice": false, "zero": false},
        "axis": {"orient": "bottom", "values": [3750, 3250, 2750, 2250, 1750, 1250, 750], "labels": false, "domain": false, "tickSize": 7, "title": null}},
  "x2": {"field": "w2"},
  "y": {"field": "a1", "type": "quantitative", "scale": {"domain": [-0.2, 0.75], "nice": false, "zero": false},
        "axis": {"orient": "left", "values": [-0.15, -0.05, 0.05, 0.15, 0.25, 0.35, 0.45, 0.55, 0.65, 0.75], "labels": false, "domain": false, "tickSize": 5, "title": null}},
  "y2": {"field": "a2"}
 }
},
{
 "data": {"name": "pointers"},
 "mark": {"type": "rule", "color": "black", "strokeWidth": 1},
 "encoding": {
  "x": {"field": "w1", "type": "quantitative", "scale": {"domain": [500, 4000], "reverse": true, "nice": false, "zero": false}, "axis": null},
  "x2": {"field": "w2"},
  "y": {"field": "a1", "type": "quantitative", "scale": {"domain": [-0.2, 0.75], "nice": false, "zero": false}, "axis": null},
  "y2": {"field": "a2"}
 }
},
{
 "data": {"values": [{"w": 3104, "a": 0.632}]},
 "mark": {"type": "point", "shape": "triangle-up", "filled": true, "color": "black", "size": 35, "angle": 348, "opacity": 1},
 "encoding": {
  "x": {"field": "w", "type": "quantitative", "scale": {"domain": [500, 4000], "reverse": true, "nice": false, "zero": false}, "axis": null},
  "y": {"field": "a", "type": "quantitative", "scale": {"domain": [-0.2, 0.75], "nice": false, "zero": false}, "axis": null}
 }
},
{
 "data": {"values": [{"w": 2726, "a": 0.607}]},
 "mark": {"type": "point", "shape": "triangle-up", "filled": true, "color": "black", "size": 35, "angle": 49, "opacity": 1},
 "encoding": {
  "x": {"field": "w", "type": "quantitative", "scale": {"domain": [500, 4000], "reverse": true, "nice": false, "zero": false}, "axis": null},
  "y": {"field": "a", "type": "quantitative", "scale": {"domain": [-0.2, 0.75], "nice": false, "zero": false}, "axis": null}
 }
},
{
 "data": {"name": "regions"},
 "mark": {"type": "text", "font": "Liberation Sans", "fontWeight": "bold", "fontSize": 16.5, "align": "center", "baseline": "middle", "color": "black"},
 "encoding": {
  "x": {"field": "w", "type": "quantitative", "scale": {"domain": [500, 4000], "reverse": true, "nice": false, "zero": false}, "axis": null},
  "y": {"field": "a", "type": "quantitative", "scale": {"domain": [-0.2, 0.75], "nice": false, "zero": false}, "axis": null},
  "text": {"field": "label"}
 }
},
{
 "data": {"name": "notes"},
 "mark": {"type": "text", "font": "Liberation Sans", "fontSize": 15.5, "align": "center", "baseline": "middle", "color": "black"},
 "encoding": {
  "x": {"field": "w", "type": "quantitative", "scale": {"domain": [500, 4000], "reverse": true, "nice": false, "zero": false}, "axis": null},
  "y": {"field": "a", "type": "quantitative", "scale": {"domain": [-0.2, 0.75], "nice": false, "zero": false}, "axis": null},
  "text": {"field": "label"}
 }
},
{
 "data": {"name": "series"},
 "mark": {"type": "text", "font": "Liberation Sans", "fontSize": 19.5, "align": "left", "baseline": "middle", "color": "black"},
 "encoding": {
  "x": {"field": "w", "type": "quantitative", "scale": {"domain": [500, 4000], "reverse": true, "nice": false, "zero": false}, "axis": null},
  "y": {"field": "a", "type": "quantitative", "scale": {"domain": [-0.2, 0.75], "nice": false, "zero": false}, "axis": null},
  "text": {"field": "label"}
 }
}
],
"resolve": {"axis": {"x": "independent", "y": "independent"}}
}
